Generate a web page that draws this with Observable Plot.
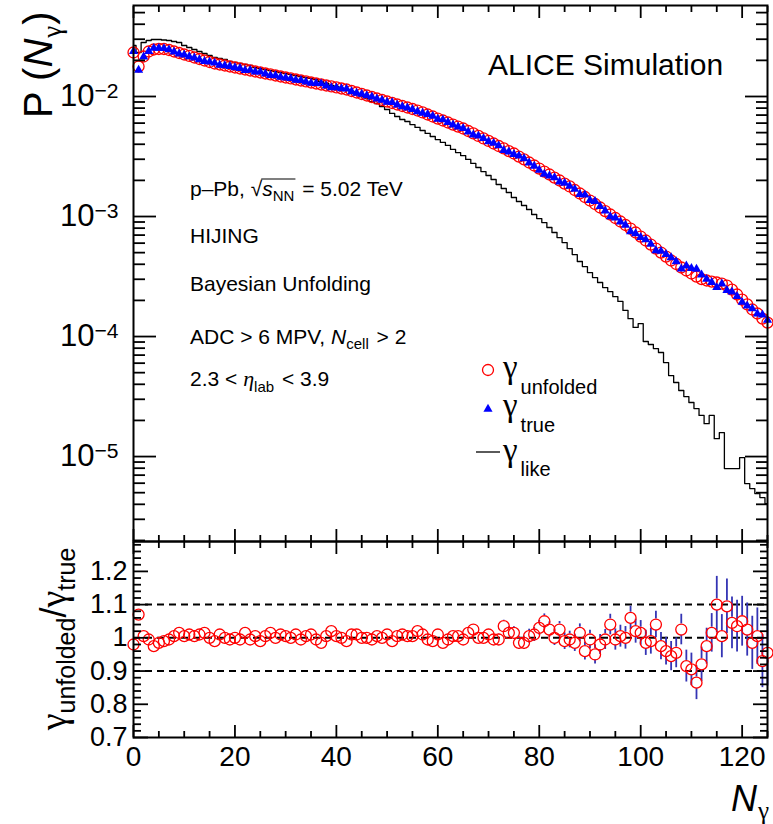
<!DOCTYPE html>
<html><head><meta charset="utf-8">
<script src="https://cdn.jsdelivr.net/npm/d3@7"></script>
<script src="https://cdn.jsdelivr.net/npm/@observablehq/plot@0.6"></script>
<style>
html,body{margin:0;padding:0;background:#fff;}
#wrap{position:relative;width:773px;height:824px;overflow:hidden;}
#wrap svg{position:absolute;left:0;}
#wrap svg.ov text{white-space:pre;}
</style></head><body><div id="wrap"></div>
<script>
// ---- data (bin index = N_gamma, 0..125) ----
const unfolded = [
 2.326e-2, 1.778e-2, 2.154e-2, 2.371e-2, 2.464e-2, 2.488e-2, 2.488e-2, 2.441e-2, 2.371e-2, 2.304e-2,
 2.239e-2, 2.176e-2, 2.113e-2, 2.054e-2, 1.995e-2, 1.939e-2, 1.884e-2, 1.848e-2, 1.813e-2, 1.778e-2,
 1.744e-2, 1.711e-2, 1.679e-2, 1.647e-2, 1.616e-2, 1.585e-2, 1.555e-2, 1.526e-2, 1.496e-2, 1.468e-2,
 1.440e-2, 1.413e-2, 1.386e-2, 1.359e-2, 1.334e-2, 1.308e-2, 1.283e-2, 1.259e-2, 1.235e-2, 1.212e-2,
 1.189e-2, 1.166e-2, 1.144e-2, 1.111e-2, 1.080e-2, 1.049e-2, 1.019e-2, 9.90e-3, 9.62e-3, 9.35e-3,
 9.08e-3, 8.83e-3, 8.58e-3, 8.33e-3, 8.10e-3, 7.87e-3, 7.64e-3, 7.36e-3, 7.08e-3, 6.81e-3,
 6.55e-3, 6.31e-3, 6.07e-3, 5.84e-3, 5.62e-3, 5.41e-3, 5.16e-3, 4.92e-3, 4.69e-3, 4.47e-3,
 4.26e-3, 4.06e-3, 3.87e-3, 3.69e-3, 3.51e-3, 3.35e-3, 3.16e-3, 2.99e-3, 2.82e-3, 2.66e-3,
 2.51e-3, 2.37e-3, 2.24e-3, 2.11e-3, 1.995e-3, 1.88e-3, 1.78e-3, 1.663e-3, 1.555e-3, 1.454e-3,
 1.359e-3, 1.271e-3, 1.189e-3, 1.111e-3, 1.039e-3, 9.72e-4, 9.09e-4, 8.50e-4, 7.94e-4, 7.36e-4,
 6.81e-4, 6.31e-4, 5.84e-4, 5.41e-4, 5.01e-4, 4.64e-4, 4.30e-4, 4.02e-4, 3.76e-4, 3.55e-4,
 3.35e-4, 3.16e-4, 3.01e-4, 2.93e-4, 2.87e-4, 2.82e-4, 2.76e-4, 2.66e-4, 2.46e-4, 2.24e-4,
 2.03e-4, 1.85e-4, 1.68e-4, 1.555e-4, 1.41e-4, 1.308e-4
];
const like = [
 2.661e-2, 2.326e-2, 2.818e-2, 2.929e-2, 2.985e-2, 2.985e-2, 2.957e-2, 2.929e-2, 2.873e-2, 2.818e-2,
 2.661e-2, 2.560e-2, 2.464e-2, 2.371e-2, 2.282e-2, 2.196e-2, 2.113e-2, 2.073e-2, 2.034e-2, 1.957e-2,
 1.920e-2, 1.884e-2, 1.848e-2, 1.813e-2, 1.744e-2, 1.711e-2, 1.679e-2, 1.647e-2, 1.616e-2, 1.585e-2,
 1.555e-2, 1.526e-2, 1.496e-2, 1.468e-2, 1.440e-2, 1.413e-2, 1.386e-2, 1.334e-2, 1.283e-2, 1.235e-2,
 1.212e-2, 1.166e-2, 1.144e-2, 1.101e-2, 1.039e-2, 1.000e-2, 9.62e-3, 9.08e-3, 8.74e-3, 8.25e-3,
 7.79e-3, 7.22e-3, 6.81e-3, 6.43e-3, 6.19e-3, 5.84e-3, 5.52e-3, 5.21e-3, 4.92e-3, 4.64e-3,
 4.38e-3, 4.14e-3, 3.91e-3, 3.62e-3, 3.41e-3, 3.22e-3, 2.99e-3, 2.77e-3, 2.56e-3, 2.37e-3,
 2.196e-3, 2.034e-3, 1.848e-3, 1.711e-3, 1.585e-3, 1.440e-3, 1.334e-3, 1.235e-3, 1.144e-3, 1.039e-3,
 9.62e-4, 8.91e-4, 8.10e-4, 7.36e-4, 6.68e-4, 6.07e-4, 5.41e-4, 4.82e-4, 4.22e-4, 3.83e-4,
 3.41e-4, 3.10e-4, 2.82e-4, 2.56e-4, 2.37e-4, 2.15e-4, 1.96e-4, 1.65e-4, 1.41e-4, 1.19e-4,
 1.28e-4, 9.09e-5, 8.58e-5, 7.94e-5, 7.36e-5, 6.07e-5, 4.73e-5, 4.14e-5, 3.55e-5, 3.16e-5,
 2.82e-5, 2.51e-5, 2.20e-5, 1.88e-5, 2.20e-5, 1.41e-5, 1.58e-5, 7.94e-6, 7.94e-6, 7.94e-6,
 9.81e-6, 5.96e-6, 5.41e-6, 4.92e-6, 4.55e-6, 4.06e-6
];
// ratio gamma_unfolded / gamma_true and its uncertainty
const ratio = [
 0.98, 1.07, 1.005, 0.995, 0.975, 0.985, 0.99, 0.995, 1.005, 1.015,
 1.005, 1.01, 1.005, 1.01, 1.015, 1.0, 0.99, 1.01, 1.0, 0.995,
 1.0, 0.995, 1.015, 0.995, 1.005, 0.99, 1.005, 1.015, 1.0, 1.01,
 1.005, 1.0, 1.01, 0.995, 1.005, 1.01, 0.995, 0.985, 1.005, 1.02,
 1.005, 1.0, 0.99, 1.01, 1.01, 1.0, 1.0, 0.995, 1.005, 1.0,
 1.01, 0.99, 1.005, 1.01, 1.005, 1.005, 1.02, 1.01, 0.995, 0.99,
 1.01, 0.985, 0.995, 1.005, 1.005, 0.995, 1.015, 1.025, 1.0, 1.0,
 1.01, 0.995, 0.995, 1.035, 1.015, 1.015, 0.985, 0.985, 1.005, 1.01,
 1.03, 1.05, 1.025, 1.0, 1.025, 0.99, 0.995, 0.985, 1.015, 0.96,
 0.995, 0.95, 0.98, 0.995, 1.04, 0.995, 1.005, 1.0, 1.06, 1.02,
 1.015, 0.985, 0.99, 1.04, 0.975, 0.96, 0.945, 0.955, 1.025, 0.915,
 0.905, 0.865, 0.92, 0.975, 1.015, 1.1, 1.005, 1.095, 1.045, 1.035,
 1.05, 1.025, 0.985, 1.005, 0.93, 0.955
];
const ratioErr = [
 .003,.004,.003,.003,.003,.003,.003,.003,.003,.003,
 .003,.003,.003,.003,.003,.003,.003,.003,.004,.004,
 .004,.004,.004,.004,.004,.004,.004,.004,.005,.005,
 .005,.005,.005,.005,.005,.006,.006,.006,.006,.006,
 .006,.007,.007,.007,.007,.008,.008,.008,.008,.009,
 .009,.009,.010,.010,.010,.011,.011,.011,.012,.012,
 .012,.013,.013,.014,.014,.014,.015,.015,.016,.016,
 .017,.017,.018,.018,.019,.019,.020,.020,.021,.021,
 .022,.022,.023,.023,.024,.025,.025,.026,.027,.027,
 .028,.029,.030,.030,.031,.032,.033,.034,.035,.036,
 .037,.038,.039,.040,.041,.042,.044,.045,.046,.048,
 .049,.051,.052,.054,.058,.085,.065,.082,.078,.078,
 .075,.080,.080,.085,.080,.100
];
const refLines = [0.9, 1.0, 1.1];
const xMajorTicks = [0, 20, 40, 60, 80, 100, 120];
const yTopMajorTicks = [1e-5, 1e-4, 1e-3, 1e-2];
const yBotMajorTicks = [0.7, 0.8, 0.9, 1.0, 1.1, 1.2];

// ---- derived tables ----
const topDomain = [1.96e-6, 0.0573];
const botDomain = [0.7, 1.29];
const unf = unfolded.map((v, i) => ({N: i, v}));
const tru = unfolded.map((v, i) => ({N: i, v: v / ratio[i]}));
const lik = like.map((v, i) => ({N: i, v}));
const rat = ratio.map((r, i) => ({N: i, r, e: ratioErr[i]}));

const xMinorTicks = d3.range(0, 126, 5).filter(d => d % 20 !== 0);
const yTopMinorTicks = [];
for (let e = -6; e <= -2; e++) for (let m = 2; m <= 9; m++) {
  const v = m * Math.pow(10, e);
  if (v >= topDomain[0] && v <= topDomain[1]) yTopMinorTicks.push(v);
}
const yBotMinorTicks = d3.range(36, 65).map(k => k / 50).filter(v => Math.abs(v * 10 - Math.round(v * 10)) > 1e-6);

const FONT = "'Liberation Sans', Arial, Helvetica, sans-serif";
const GREEK = "'Liberation Serif', 'Times New Roman', serif";
const noLab = () => "";
const tk = {strokeWidth: 1.8, label: null, tickFormat: noLab};

function frameTicks(xMaj, xMin, yMaj, yMin, xs, ys) {
  return [
    Plot.axisX({...tk, ticks: xMaj, anchor: "bottom", tickSize: -xs[0]}),
    Plot.axisX({...tk, ticks: xMin, anchor: "bottom", tickSize: -xs[1]}),
    Plot.axisX({...tk, ticks: xMaj, anchor: "top", tickSize: -xs[0]}),
    Plot.axisX({...tk, ticks: xMin, anchor: "top", tickSize: -xs[1]}),
    Plot.axisY({...tk, ticks: yMaj, anchor: "left", tickSize: -ys[0]}),
    Plot.axisY({...tk, ticks: yMin, anchor: "left", tickSize: -ys[1]}),
    Plot.axisY({...tk, ticks: yMaj, anchor: "right", tickSize: -ys[0]}),
    Plot.axisY({...tk, ticks: yMin, anchor: "right", tickSize: -ys[1]})
  ];
}

const topPlot = Plot.plot({
  width: 773, height: 545,
  marginLeft: 133, marginRight: 6, marginTop: 5, marginBottom: 4,
  style: {fontFamily: FONT, background: "transparent", color: "black"},
  x: {domain: [0, 125]},
  y: {type: "log", domain: topDomain},
  marks: [
    Plot.line(lik, {x: "N", y: "v", curve: "step", stroke: "black", strokeWidth: 1.3}),
    Plot.dot(unf, {x: "N", y: "v", r: 5.5, stroke: "#ff0000", strokeWidth: 1.3, fill: "none"}),
    Plot.dot(tru, {x: "N", y: "v", symbol: "triangle", r: 3.4, fill: "#0000ff", stroke: null}),
    ...frameTicks(xMajorTicks, xMinorTicks, yTopMajorTicks, yTopMinorTicks, [12, 6], [23, 12]),
    Plot.axisY({ticks: yTopMajorTicks, anchor: "left", tickSize: 0, tickPadding: 15, fontSize: 31, label: null,
      tickFormat: d => "10^" + Math.round(Math.log10(d))}),
    Plot.frame({stroke: "black", strokeWidth: 2})
  ]
});
topPlot.style.top = "0px";

const botPlot = Plot.plot({
  width: 773, height: 288,
  marginLeft: 133, marginRight: 6, marginTop: 5, marginBottom: 87,
  style: {fontFamily: FONT, background: "transparent", color: "black"},
  x: {domain: [0, 125]},
  y: {domain: botDomain},
  marks: [
    Plot.ruleY(refLines, {stroke: "black", strokeWidth: 2, strokeDasharray: "7,5"}),
    Plot.ruleX(rat.filter(d => d.e > 0.017), {x: "N", y1: d => d.r + 0.017, y2: d => d.r + d.e, stroke: "#3434b4", strokeWidth: 1.8}),
    Plot.ruleX(rat.filter(d => d.e > 0.017), {x: "N", y1: d => d.r - 0.017, y2: d => d.r - d.e, stroke: "#3434b4", strokeWidth: 1.8}),
    Plot.dot(rat, {x: "N", y: "r", r: 5.5, stroke: "#ff0000", strokeWidth: 1.3, fill: "none"}),
    ...frameTicks(xMajorTicks, xMinorTicks, yBotMajorTicks, yBotMinorTicks, [12, 6], [15, 8]),
    Plot.axisY({ticks: yBotMajorTicks, anchor: "left", tickSize: 0, tickPadding: 6, fontSize: 27, label: null,
      tickFormat: d => (Math.abs(d - 1) < 1e-9 ? "1" : d.toFixed(1))}),
    Plot.axisX({ticks: xMajorTicks, anchor: "bottom", tickSize: 0, tickPadding: 9, fontSize: 28, label: null,
      tickFormat: d => String(d)}),
    Plot.frame({stroke: "black", strokeWidth: 2})
  ]
});
botPlot.style.top = "536px";

const wrap = document.getElementById("wrap");
wrap.appendChild(topPlot);
wrap.appendChild(botPlot);

// superscript exponents on the log axis labels
d3.select(topPlot).selectAll('g[aria-label="y-axis tick label"] text').each(function() {
  const s = this.textContent;
  if (s.includes("^")) {
    const [b, e] = s.split("^");
    const t = d3.select(this);
    t.text(b);
    t.append("tspan").attr("dy", "-0.42em").attr("font-size", "0.68em").text(e.replace("-", "\u2212"));
  }
});

// ---- overlay text ----
const ov = d3.select(wrap).append("svg").attr("class", "ov").attr("width", 773).attr("height", 824)
  .style("top", "0px").attr("font-family", FONT).attr("fill", "black");

function seq(parent, x, y, parts) {
  let cx = x;
  const items = [];
  for (const p of parts) {
    const t = parent.append("text").attr("x", cx).attr("y", y + (p.dy || 0))
      .attr("xml:space", "preserve").attr("font-size", p.size).text(p.t);
    if (p.italic) t.attr("font-style", "italic");
    if (p.family) t.attr("font-family", p.family);
    const w = t.node().getComputedTextLength();
    items.push({x0: cx, x1: cx + w});
    cx += w + (p.gap || 0);
  }
  return {width: cx - x, items};
}

seq(ov, 488, 75, [{t: "ALICE Simulation", size: 30}]);

const L1 = seq(ov, 190, 196, [
  {t: "p\u2013Pb, ", size: 21}, {t: "\u221A", size: 21}, {t: "s", size: 21, italic: true},
  {t: "NN", size: 15, dy: 5, gap: 2}, {t: " = 5.02 TeV", size: 21}]);
ov.append("line").attr("x1", L1.items[1].x1 - 1).attr("x2", L1.items[3].x1 + 1)
  .attr("y1", 196 - 17).attr("y2", 196 - 17).attr("stroke", "black").attr("stroke-width", 1.2);
seq(ov, 190, 243, [{t: "HIJING", size: 21}]);
seq(ov, 190, 291, [{t: "Bayesian Unfolding", size: 21}]);
seq(ov, 190, 344, [{t: "ADC > 6 MPV, ", size: 21}, {t: "N", size: 21, italic: true},
  {t: "cell", size: 15, dy: 5, gap: 2}, {t: " > 2", size: 21}]);
seq(ov, 190, 386, [{t: "2.3 < ", size: 21}, {t: "\u03B7", size: 22, italic: true, family: GREEK},
  {t: "lab", size: 15, dy: 6, gap: 2}, {t: " < 3.9", size: 21}]);

// legend
ov.append("circle").attr("cx", 488).attr("cy", 370).attr("r", 5.5).attr("fill", "none")
  .attr("stroke", "#ff0000").attr("stroke-width", 1.3);
ov.append("path").attr("d", d3.symbol(d3.symbolTriangle, Math.PI * 3.4 * 3.4)())
  .attr("transform", "translate(488,409)").attr("fill", "#0000ff");
ov.append("line").attr("x1", 476).attr("x2", 500).attr("y1", 452).attr("y2", 452)
  .attr("stroke", "black").attr("stroke-width", 1.3);
seq(ov, 503, 378, [{t: "\u03B3", size: 33, family: GREEK, gap: 3}, {t: "unfolded", size: 20, dy: 16}]);
seq(ov, 503, 416, [{t: "\u03B3", size: 33, family: GREEK, gap: 3}, {t: "true", size: 20, dy: 16}]);
seq(ov, 503, 461, [{t: "\u03B3", size: 33, family: GREEK, gap: 3}, {t: "like", size: 20, dy: 15}]);

// y title top
const gP = ov.append("g").attr("transform", "translate(52,118) rotate(-90)");
seq(gP, 0, 0, [{t: "P (", size: 40}, {t: "N", size: 40, italic: true, gap: 1},
  {t: "\u03B3", size: 27, dy: 9, family: GREEK, gap: 1}, {t: ")", size: 40}]);

// y title bottom
const gR = ov.append("g");
const R = seq(gR, 0, 0, [{t: "\u03B3", size: 38, family: GREEK}, {t: "unfolded", size: 25, dy: 9},
  {t: "/", size: 36}, {t: "\u03B3", size: 38, family: GREEK}, {t: "true", size: 25, dy: 9}]);
gR.attr("transform", `translate(66,${639 + R.width / 2}) rotate(-90)`);

// x title
const gX = ov.append("g");
const X = seq(gX, 0, 0, [{t: "N", size: 36, italic: true, gap: 1}, {t: "\u03B3", size: 25, dy: 8, family: GREEK}]);
gX.attr("transform", `translate(${769 - X.width},811)`);
</script></body></html>
